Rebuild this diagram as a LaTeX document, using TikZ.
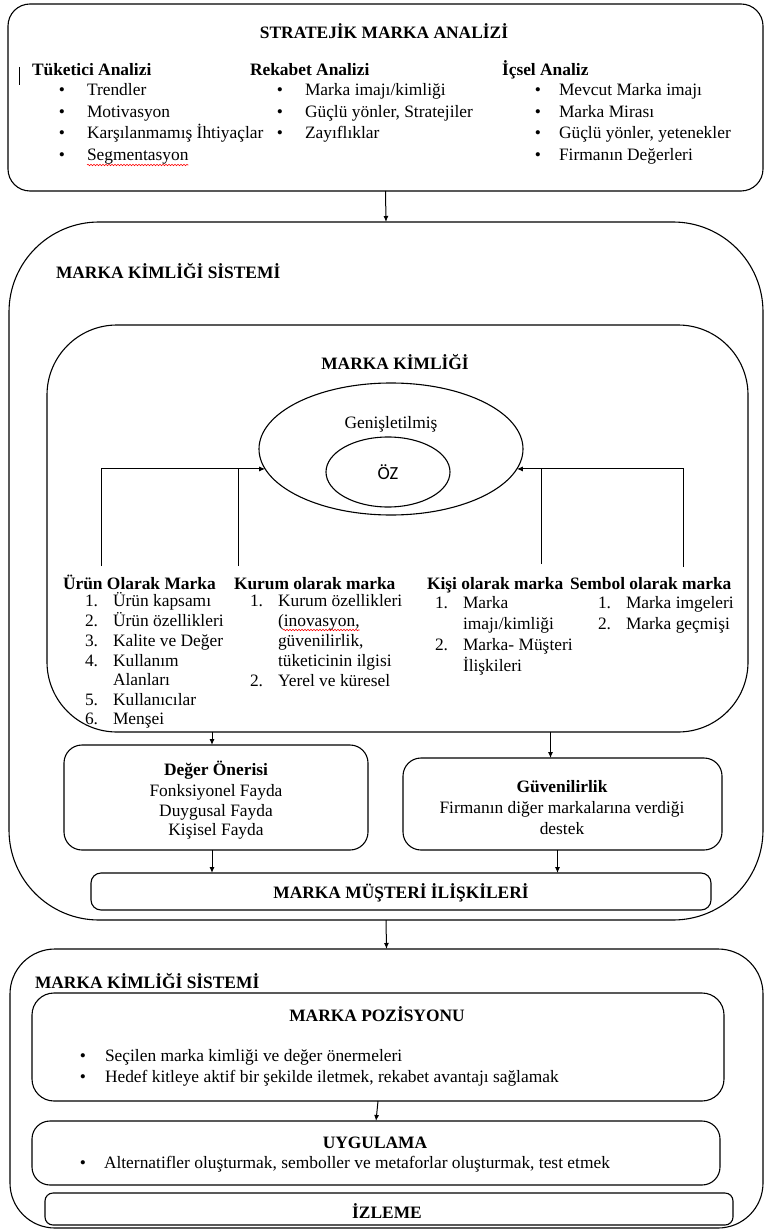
\documentclass[tikz,border=0pt]{standalone}
\usepackage{fontspec}
\setmainfont{Liberation Serif}
\newfontfamily\ozfont{Carlito}
\usetikzlibrary{arrows.meta,shapes.geometric,decorations.pathmorphing}
\newcommand\fs{\fontsize{17.4pt}{20pt}\selectfont}
\newcommand\bitem[5]{\node[ctxt] (#1b) at (#2,#4) {\textbullet};\node[txt] (#1) at (#3,#4) {#5};}
\newcommand\nitem[6]{\node[txt] (#1n) at (#2,#4) {#5};\node[txt] (#1) at (#3,#4) {#6};}
\begin{document}
\begin{tikzpicture}[x=1pt,y=-1pt,
  every node/.style={inner sep=0pt, outer sep=0pt, font=\fs},
  txt/.style={anchor=base west},
  ctxt/.style={anchor=base},
  bld/.style={font=\fs\bfseries},
  box/.style={draw, line width=1.1pt, rounded corners=#1},
  box/.default=20,
  arr/.style={line width=1pt, -{Latex[length=6pt,width=5pt]}},
  ln/.style={line width=1pt},
  wavy/.style={red, line width=0.6pt, decorate, decoration={snake, amplitude=0.7pt, segment length=3pt}}
]
\useasboundingbox (0,0) rectangle (768,1230);

% ---------- Box 1 ----------
\node[box=22, minimum width=755, minimum height=187] (b1) at (385.5,97.5) {};
\node[ctxt,bld] (t1) at (384,39) {STRATEJİK MARKA ANALİZİ};
\coordinate (cur1) at (19,67); \coordinate (cur2) at (19,85);
\draw[line width=0.8pt] (cur1) -- (cur2);
\node[txt,bld] (h1) at (32,76) {Tüketici Analizi};
\node[txt,bld] (h2) at (250,76) {Rekabet Analizi};
\node[txt,bld] (h3) at (502,76) {İçsel Analiz};
\bitem{ta}{62}{87}{96}{Trendler}
\bitem{tb}{62}{87}{118}{Motivasyon}
\bitem{tc}{62}{87}{139}{Karşılanmamış İhtiyaçlar}
\bitem{td}{62}{87}{161}{Segmentasyon}
\draw[wavy] ([yshift=-4pt]td.base west) -- ([yshift=-4pt]td.base east);
\bitem{ra}{280}{305}{96}{Marka imajı/kimliği}
\bitem{rb}{280}{305}{118}{Güçlü yönler, Stratejiler}
\bitem{rc}{280}{305}{139}{Zayıflıklar}
\bitem{ia}{538}{559}{96}{Mevcut Marka imajı}
\bitem{ib}{538}{559}{118}{Marka Mirası}
\bitem{ic}{538}{559}{139}{Güçlü yönler, yetenekler}
\bitem{id}{538}{559}{161}{Firmanın Değerleri}

% ---------- Box 2 ----------
\node[box=90, minimum width=754, minimum height=698] (b2) at (386,571) {};
\node[txt,bld] (s2) at (56,279) {MARKA KİMLİĞİ SİSTEMİ};
\node[box=70, minimum width=701, minimum height=407] (b2i) at (397.5,528.5) {};
\node[ctxt,bld] (mk) at (395,369) {MARKA KİMLİĞİ};
\node[draw, ellipse, line width=1.1pt, minimum width=264, minimum height=132] (oe) at (391,449) {};
\node[ctxt] (gen) at (391,428) {Genişletilmiş};
\node[draw, ellipse, line width=1.1pt, minimum width=124, minimum height=70] (ie) at (388,472) {};
\node[ctxt, font=\ozfont\fontsize{18.5pt}{21pt}\selectfont] (oz) at (388,479) {ÖZ};

\node[txt,bld] (hu) at (63,589) {Ürün Olarak Marka};
\nitem{u1}{85}{113}{606}{1.}{Ürün kapsamı}
\nitem{u2}{85}{113}{626}{2.}{Ürün özellikleri}
\nitem{u3}{85}{113}{646}{3.}{Kalite ve Değer}
\nitem{u4}{85}{113}{666}{4.}{Kullanım}
\node[txt] (u4b) at (113,685) {Alanları};
\nitem{u5}{85}{113}{705}{5.}{Kullanıcılar}
\nitem{u6}{85}{113}{724}{6.}{Menşei}

\node[txt,bld] (hk) at (234,589) {Kurum olarak marka};
\nitem{k1}{250}{278}{606}{1.}{Kurum özellikleri}
\node[txt] (k1b) at (278,626) {(inovasyon,};
\draw[wavy] ([yshift=-4pt,xshift=5pt]k1b.base west) -- ([yshift=-4pt]k1b.base east);
\node[txt] (k1c) at (278,646) {güvenilirlik,};
\node[txt] (k1d) at (278,666) {tüketicinin ilgisi};
\nitem{k2}{250}{278}{686}{2.}{Yerel ve küresel}

\node[txt,bld] (hp) at (427,589) {Kişi olarak marka};
\nitem{p1}{435}{463}{608}{1.}{Marka}
\node[txt] (p1b) at (463,629) {imajı/kimliği};
\nitem{p2}{435}{463}{650}{2.}{Marka- Müşteri}
\node[txt] (p2b) at (463,671) {İlişkileri};

\node[txt,bld] (hs) at (570,589) {Sembol olarak marka};
\nitem{s1}{598}{626}{608}{1.}{Marka imgeleri}
\nitem{s2}{598}{626}{629}{2.}{Marka geçmişi}

\coordinate (pU) at (101,566);
\coordinate (pK) at (238,566);
\coordinate (pP) at (541,564);
\coordinate (pS) at (683,567);
\draw[arr] (pU) |- (oe.189);
\draw[ln] (pK) -- (pK |- oe.189);
\draw[arr] (pS) |- (oe.-9);
\draw[ln] (pP) -- (pP |- oe.-9);

\node[box=18, minimum width=304, minimum height=105] (dg) at (216,797.5) {};
\node[ctxt,bld] (dg1) at (216,775) {Değer Önerisi};
\node[ctxt] (dg2) at (216,796) {Fonksiyonel Fayda};
\node[ctxt] (dg3) at (216,816) {Duygusal Fayda};
\node[ctxt] (dg4) at (216,835) {Kişisel Fayda};

\node[box=18, minimum width=319, minimum height=92] (gv) at (562.5,804) {};
\node[ctxt,bld] (gv1) at (562,792) {Güvenilirlik};
\node[ctxt] (gv2) at (562,813) {Firmanın diğer markalarına verdiği};
\node[ctxt] (gv3) at (562,834) {destek};

\node[box=10, minimum width=620, minimum height=37] (mmi) at (401,891.5) {};
\node[ctxt,bld] (mmit) at (401,898) {MARKA MÜŞTERİ İLİŞKİLERİ};

\coordinate (dgt) at ([xshift=-4pt]dg.north);
\coordinate (dgb) at ([xshift=-4pt]dg.south);
\coordinate (gvt) at ([xshift=-12pt]gv.north);
\coordinate (gvb) at ([xshift=-5pt]gv.south);
\draw[arr] (dgt |- b2i.south) -- (dgt);
\draw[arr] (gvt |- b2i.south) -- (gvt);
\draw[arr] (dgb) -- (dgb |- mmi.north);
\draw[arr] (gvb) -- (gvb |- mmi.north);

% ---------- Box 3 ----------
\node[box=45, minimum width=753, minimum height=279] (b3) at (386.5,1088.5) {};
\node[txt,bld] (s3) at (35,988) {MARKA KİMLİĞİ SİSTEMİ};
\node[box=22, minimum width=692, minimum height=108] (poz) at (378,1047) {};
\node[ctxt,bld] (pozt) at (377,1021) {MARKA POZİSYONU};
\bitem{za}{83}{105}{1061}{Seçilen marka kimliği ve değer önermeleri}
\bitem{zb}{83}{105}{1082}{Hedef kitleye aktif bir şekilde iletmek, rekabet avantajı sağlamak}
\node[box=18, minimum width=688, minimum height=64] (uyg) at (376,1153) {};
\node[ctxt,bld] (uygt) at (375,1148) {UYGULAMA};
\bitem{ya}{83}{104}{1168}{Alternatifler oluşturmak, semboller ve metaforlar oluşturmak, test etmek}
\node[box=8, minimum width=688, minimum height=32] (izl) at (389,1209) {};
\node[ctxt,bld] (izlt) at (387,1218) {İZLEME};

\draw[arr] (b1.south) -- (b2.north);
\draw[arr] (b2.south) -- (b3.north);
\draw[arr] (poz.south) -- (uyg.north);
\end{tikzpicture}
\end{document}
